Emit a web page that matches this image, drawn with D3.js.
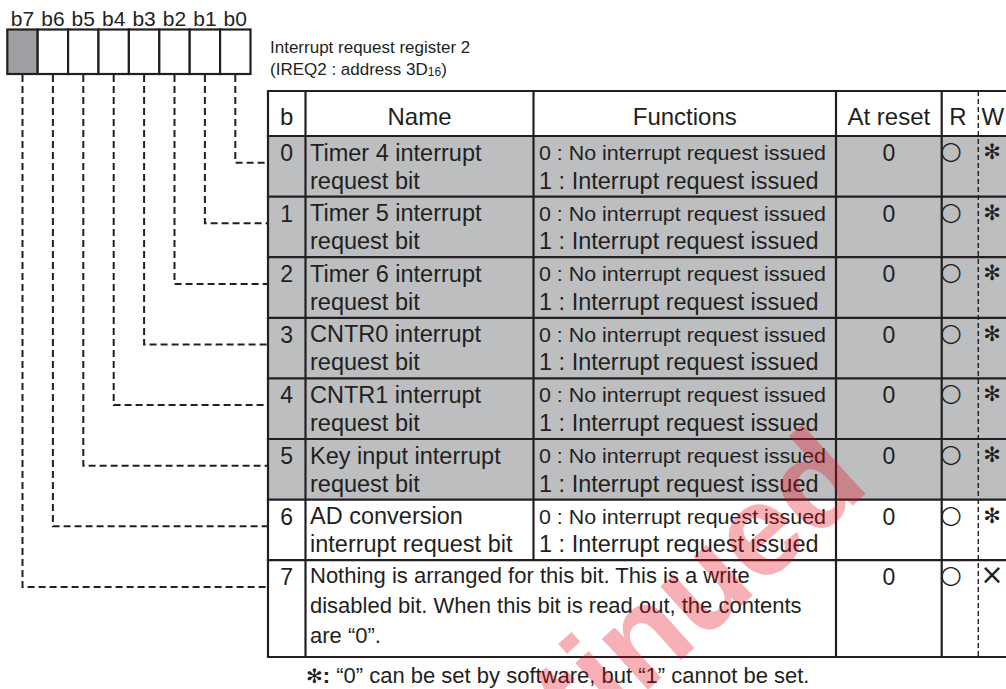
<!DOCTYPE html>
<html><head><meta charset="utf-8">
<script src="https://cdn.jsdelivr.net/npm/d3@7"></script>
<style>
body{margin:0;background:#fff}
svg{display:block}
text{font-family:"Liberation Sans",Arial,Helvetica,sans-serif;fill:#231f20}
</style>
</head><body>
<svg id="c" width="1006" height="689"></svg>
<script>
// ---- data ----
const bitLabels = ["b7","b6","b5","b4","b3","b2","b1","b0"];
const bitNumbers = [0,1,2,3,4,5,6,7];
const headers = ["b","Name","Functions","At reset","R","W"];
const nameLine1 = ["Timer 4 interrupt","Timer 5 interrupt","Timer 6 interrupt","CNTR0 interrupt","CNTR1 interrupt","Key input interrupt","AD conversion"];
const nameLine2 = ["request bit","request bit","request bit","request bit","request bit","request bit","interrupt request bit"];
const funcLine0 = ["0 : No interrupt request issued","0 : No interrupt request issued","0 : No interrupt request issued","0 : No interrupt request issued","0 : No interrupt request issued","0 : No interrupt request issued","0 : No interrupt request issued"];
const funcLine1 = ["1 : Interrupt request issued","1 : Interrupt request issued","1 : Interrupt request issued","1 : Interrupt request issued","1 : Interrupt request issued","1 : Interrupt request issued","1 : Interrupt request issued"];
const row7Lines = ["Nothing is arranged for this bit. This is a write","disabled bit. When this bit is read out, the contents","are \u201C0\u201D."];
const resetValues = ["0","0","0","0","0","0","0","0"];
const readValues = ["\u25CB","\u25CB","\u25CB","\u25CB","\u25CB","\u25CB","\u25CB","\u25CB"];
const writeValues = ["\u273B","\u273B","\u273B","\u273B","\u273B","\u273B","\u273B","\u00D7"];
const shadedRows = [true,true,true,true,true,true,false,false];
const shadedCells = ["b7"];
const registerTitle = ["Interrupt request register 2","(IREQ2 : address 3D","16",")"];
const footnote = ["\u273B",":"," \u201C0\u201D can be set by software, but \u201C1\u201D cannot be set."];
const watermark = "Discontinued";

// ---- layout ----
const ink = "#231f20", gray = "#bcbec0", darkGray = "#9d9fa2";
const svg = d3.select("#c");

const xReg = d3.scaleBand().domain(bitLabels).range([7.3, 250.5]);
const regTop = 29.5, regBot = 74;

const colEdges = [268, 305.5, 533.5, 836, 941.7, 978.3, 1030];
const tableTop = 91, headBot = 136, tableBot = 657;
const yRow = d3.scaleBand().domain(bitNumbers.slice(0,7)).range([headBot, 560.2]);
const rowTop = b => b < 7 ? yRow(b) : yRow.range()[1];
const rowBot = b => b < 7 ? yRow(b) + yRow.bandwidth() : tableBot;

// row fills
svg.append("g").selectAll("rect").data(bitNumbers).join("rect")
  .attr("x", colEdges[0]).attr("y", d => rowTop(d))
  .attr("width", colEdges[6]-colEdges[0]).attr("height", d => rowBot(d)-rowTop(d))
  .attr("fill", d => shadedRows[d] ? gray : "#fff");

// table lines
const lines = svg.append("g").attr("stroke", ink).attr("stroke-width", 2.2).attr("fill","none");
const hy = [tableTop, headBot, ...bitNumbers.map(b => rowBot(b))];
lines.selectAll("line.h").data(hy).join("line").attr("class","h")
  .attr("x1", colEdges[0]-1.1).attr("x2", colEdges[6]).attr("y1", d=>d).attr("y2", d=>d);
[0,1,3,4].forEach(i => lines.append("line").attr("x1",colEdges[i]).attr("x2",colEdges[i]).attr("y1",tableTop).attr("y2",tableBot));
lines.append("line").attr("x1",colEdges[2]).attr("x2",colEdges[2]).attr("y1",tableTop).attr("y2",rowTop(7));
lines.append("line").attr("x1",colEdges[5]).attr("x2",colEdges[5]).attr("y1",tableTop).attr("y2",tableBot)
  .attr("stroke-width",1.4).attr("stroke-dasharray","5,3");

// register
svg.append("g").selectAll("rect").data(bitLabels).join("rect")
  .attr("x", d => xReg(d)).attr("y", regTop).attr("width", xReg.bandwidth()).attr("height", regBot-regTop)
  .attr("fill", d => shadedCells.includes(d) ? darkGray : "#fff")
  .attr("stroke", ink).attr("stroke-width", 2.2);
svg.append("g").selectAll("text").data(bitLabels).join("text")
  .attr("x", d => xReg(d)+xReg.bandwidth()/2).attr("y", 26)
  .attr("text-anchor","middle").attr("font-size",21).text(d=>d);

// connectors
const conn = svg.append("g").attr("stroke", ink).attr("stroke-width", 2).attr("fill","none").attr("stroke-dasharray","7,4");
conn.selectAll("path").data(bitNumbers).join("path")
  .attr("d", b => {
    const x = xReg("b"+b) + xReg.bandwidth()/2;
    const y = rowTop(b) + 26.7;
    return `M${x},${regBot+1}V${y}H${colEdges[0]-1}`;
  });

// register title
svg.append("text").attr("x",270).attr("y",53).attr("font-size",17).text(registerTitle[0]);
const t2 = svg.append("text").attr("x",270).attr("y",75).attr("font-size",17);
t2.append("tspan").text(registerTitle[1]);
t2.append("tspan").attr("font-size",12).attr("dy",1).text(registerTitle[2]);
t2.append("tspan").attr("dy",-1).text(registerTitle[3]);

// headers
const hx = [ (colEdges[0]+colEdges[1])/2, (colEdges[1]+colEdges[2])/2, (colEdges[2]+colEdges[3])/2, (colEdges[3]+colEdges[4])/2, 958, 981.5 ];
svg.append("g").selectAll("text").data(headers).join("text")
  .attr("x",(d,i)=>hx[i]).attr("y",125).attr("font-size",24)
  .attr("text-anchor",(d,i)=> i===5 ? "start" : "middle").text(d=>d);

// body
const body = svg.append("g");
body.selectAll("text.bit").data(bitNumbers).join("text").attr("class","bit")
  .attr("x",hx[0]).attr("y",b=>rowTop(b)+25).attr("text-anchor","middle").attr("font-size",23).text(b=>b);
body.selectAll("text.n1").data(nameLine1).join("text").attr("class","n1")
  .attr("x",310).attr("y",(d,i)=>rowTop(i)+24.5).attr("font-size",23.5).text(d=>d);
body.selectAll("text.n2").data(nameLine2).join("text").attr("class","n2")
  .attr("x",310).attr("y",(d,i)=>rowTop(i)+52.5).attr("font-size",23.5).text(d=>d);
body.selectAll("text.f0").data(funcLine0).join("text").attr("class","f0")
  .attr("x",539).attr("y",(d,i)=>rowTop(i)+24).attr("font-size",21)
  .attr("textLength",287).attr("lengthAdjust","spacingAndGlyphs").text(d=>d);
body.selectAll("text.f1").data(funcLine1).join("text").attr("class","f1")
  .attr("x",539).attr("y",(d,i)=>rowTop(i)+52.5).attr("font-size",23.5).text(d=>d);
body.selectAll("text.r7").data(row7Lines).join("text").attr("class","r7")
  .attr("x",310).attr("y",(d,i)=>rowTop(7)+23+i*30).attr("font-size",22).text(d=>d);
body.selectAll("text.rs").data(resetValues).join("text").attr("class","rs")
  .attr("x",hx[3]).attr("y",(d,i)=>rowTop(i)+25).attr("text-anchor","middle").attr("font-size",23).text(d=>d);
body.selectAll("text.rd").data(readValues).join("text").attr("class","rd")
  .attr("x",951).attr("y",(d,i)=>rowTop(i)+23).attr("text-anchor","middle")
  .style("font-family","'DejaVu Sans',sans-serif").attr("font-size",25).text(d=>d);
body.selectAll("text.wr").data(writeValues).join("text").attr("class","wr")
  .attr("x",992).attr("y",(d,i)=>rowTop(i)+ (i===7 ? 24 : 23)).attr("text-anchor","middle")
  .style("font-family","'DejaVu Sans',sans-serif").attr("font-size",(d,i)=> i===7 ? 28 : 21).text(d=>d);

// footnote
const fn = svg.append("text").attr("x",306).attr("y",683).attr("font-size",22);
fn.append("tspan").style("font-family","'DejaVu Sans',sans-serif").attr("font-size",20).text(footnote[0]);
fn.append("tspan").attr("font-weight","bold").text(footnote[1]);
fn.append("tspan").text(footnote[2]);

// watermark
svg.append("text").attr("transform","translate(872,488) rotate(-42)")
  .attr("text-anchor","end").attr("font-size",130).attr("font-weight","bold")
  .style("fill","#e60012").attr("opacity",0.3).text(watermark);
</script>
</body></html>
